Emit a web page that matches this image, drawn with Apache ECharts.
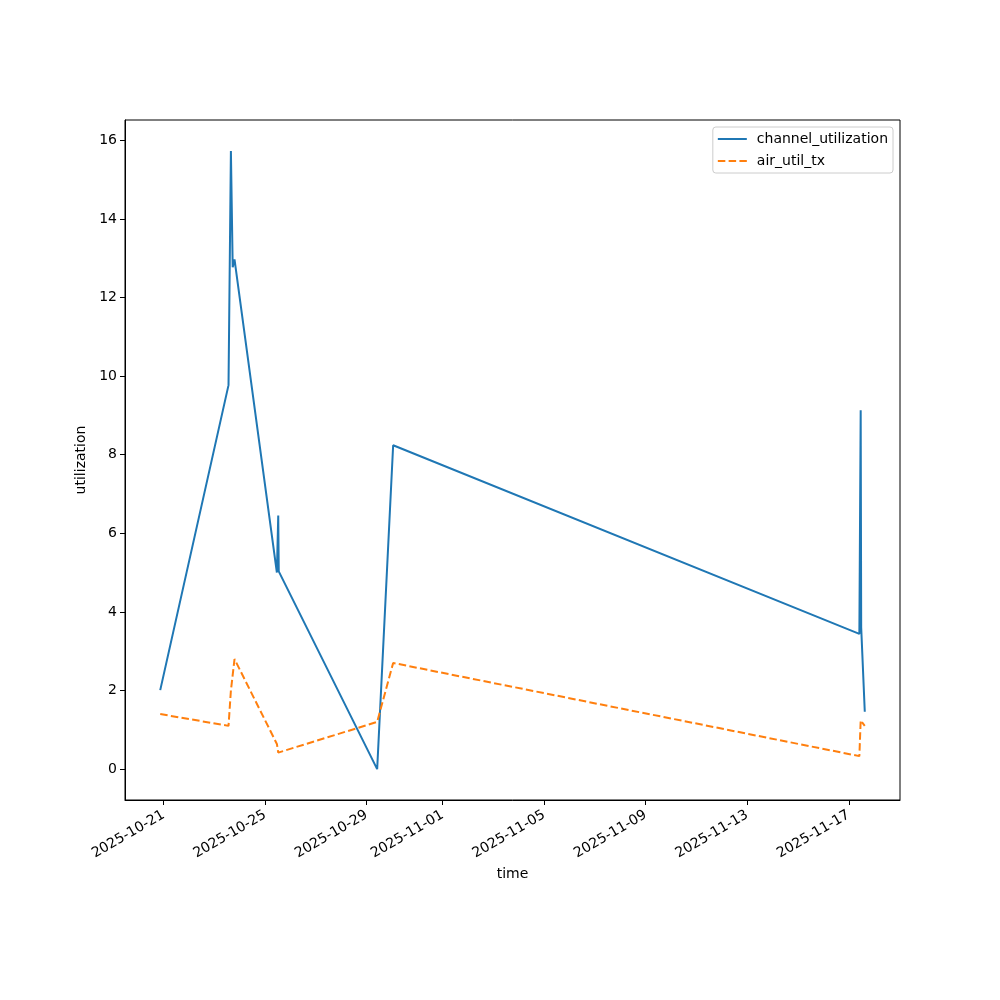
<!DOCTYPE html>
<html>
<head>
<meta charset="utf-8">
<script src="https://cdn.jsdelivr.net/npm/echarts@6/dist/echarts.min.js"></script>
<style>
  html, body { margin: 0; padding: 0; background: #fff; }
  #chart { width: 1000px; height: 1000px; }
</style>
</head>
<body>
<div id="chart"></div>
<script>
// sample times (UTC) and the two series
const times = [
  '2025-10-20T20:53Z', '2025-10-23T13:28Z', '2025-10-23T15:43Z', '2025-10-23T17:25Z',
  '2025-10-23T19:08Z', '2025-10-25T11:12Z', '2025-10-25T12:29Z', '2025-10-25T12:58Z',
  '2025-10-29T10:02Z', '2025-10-30T01:09Z', '2025-11-17T10:02Z', '2025-11-17T11:17Z',
  '2025-11-17T11:46Z', '2025-11-17T15:09Z'
]
const channelUtilization = [2.01, 9.77, 15.73, 12.77, 12.97, 5.00, 6.45, 5.03, 0.0, 8.24, 3.44, 9.13, 3.6, 1.46]
const airUtilTx = [1.40, 1.10, 2.00, 1.95, 2.80, 0.64, 0.42, 0.45, 1.20, 2.70, 0.33, 1.24, 1.20, 1.10]

const xTickDates = ['2025-10-21', '2025-10-25', '2025-10-29', '2025-11-01',
  '2025-11-05', '2025-11-09', '2025-11-13', '2025-11-17']
const yTicks = [0, 2, 4, 6, 8, 10, 12, 14, 16]

const FONT = 'DejaVu Sans'
const BLUE = '#1f77b4'
const ORANGE = '#ff7f0e'

var ts = times.map(t => Date.parse(t))
var xTicks = xTickDates.map(d => Date.parse(d + 'T00:00Z'))

// matplotlib style 5% margins
var tMin = Math.min(...ts), tMax = Math.max(...ts)
var tPad = (tMax - tMin) * 0.05
var allVals = channelUtilization.concat(airUtilTx)
var vMin = Math.min(...allVals), vMax = Math.max(...allVals)
var vPad = (vMax - vMin) * 0.05

function pad2(n) { return (n < 10 ? '0' : '') + n }
function fmtDate(v) {
  var d = new Date(v)
  return d.getUTCFullYear() + '-' + pad2(d.getUTCMonth() + 1) + '-' + pad2(d.getUTCDate())
}

var chart = echarts.init(document.getElementById('chart'))

chart.setOption({
  animation: false,
  backgroundColor: '#fff',
  textStyle: { fontFamily: FONT },
  grid: {
    left: 125, right: 100, top: 120, bottom: 200,
    show: true, borderColor: '#000', borderWidth: 1
  },
  legend: {
    orient: 'vertical',
    right: 107,
    top: 127,
    align: 'left',
    itemWidth: 29,
    itemHeight: 14,
    itemGap: 8,
    padding: [5, 5, 5, 4],
    borderColor: '#cccccc',
    borderWidth: 1,
    borderRadius: 3,
    backgroundColor: 'rgba(255,255,255,0.8)',
    itemStyle: { color: 'transparent', borderColor: 'transparent', borderWidth: 0, opacity: 0 },
    textStyle: { fontFamily: FONT, fontSize: 14, color: '#000', padding: [0, 0, 0, 5] },
    data: ['channel_utilization', 'air_util_tx']
  },
  xAxis: {
    type: 'value',
    min: tMin - tPad,
    max: tMax + tPad,
    name: 'time',
    nameLocation: 'middle',
    nameGap: 66,
    nameTextStyle: { fontFamily: FONT, fontSize: 14, color: '#000' },
    axisLine: { onZero: false, lineStyle: { color: '#000', width: 1 } },
    axisTick: { customValues: xTicks, length: 5, lineStyle: { color: '#000' } },
    axisLabel: {
      customValues: xTicks,
      rotate: 30,
      margin: 14,
      fontFamily: FONT,
      fontSize: 14,
      color: '#000',
      formatter: fmtDate
    },
    splitLine: { show: false }
  },
  yAxis: {
    type: 'value',
    min: vMin - vPad,
    max: vMax + vPad,
    name: 'utilization',
    nameLocation: 'middle',
    nameGap: 28,
    nameRotate: 90,
    nameTextStyle: { fontFamily: FONT, fontSize: 14, color: '#000' },
    axisLine: { show: true, onZero: false, lineStyle: { color: '#000', width: 1 } },
    axisTick: { show: true, customValues: yTicks, length: 5, lineStyle: { color: '#000' } },
    axisLabel: {
      customValues: yTicks,
      margin: 8,
      fontFamily: FONT,
      fontSize: 14,
      color: '#000'
    },
    splitLine: { show: false }
  },
  series: [
    {
      name: 'channel_utilization',
      type: 'line',
      data: ts.map((t, i) => [t, channelUtilization[i]]),
      showSymbol: false,
      symbol: 'none',
      color: BLUE,
      lineStyle: { color: BLUE, width: 2 }
    },
    {
      name: 'air_util_tx',
      type: 'line',
      data: ts.map((t, i) => [t, airUtilTx[i]]),
      showSymbol: false,
      symbol: 'none',
      color: ORANGE,
      lineStyle: { color: ORANGE, width: 2, type: [7.5, 3.3] }
    }
  ]
})
</script>
</body>
</html>
